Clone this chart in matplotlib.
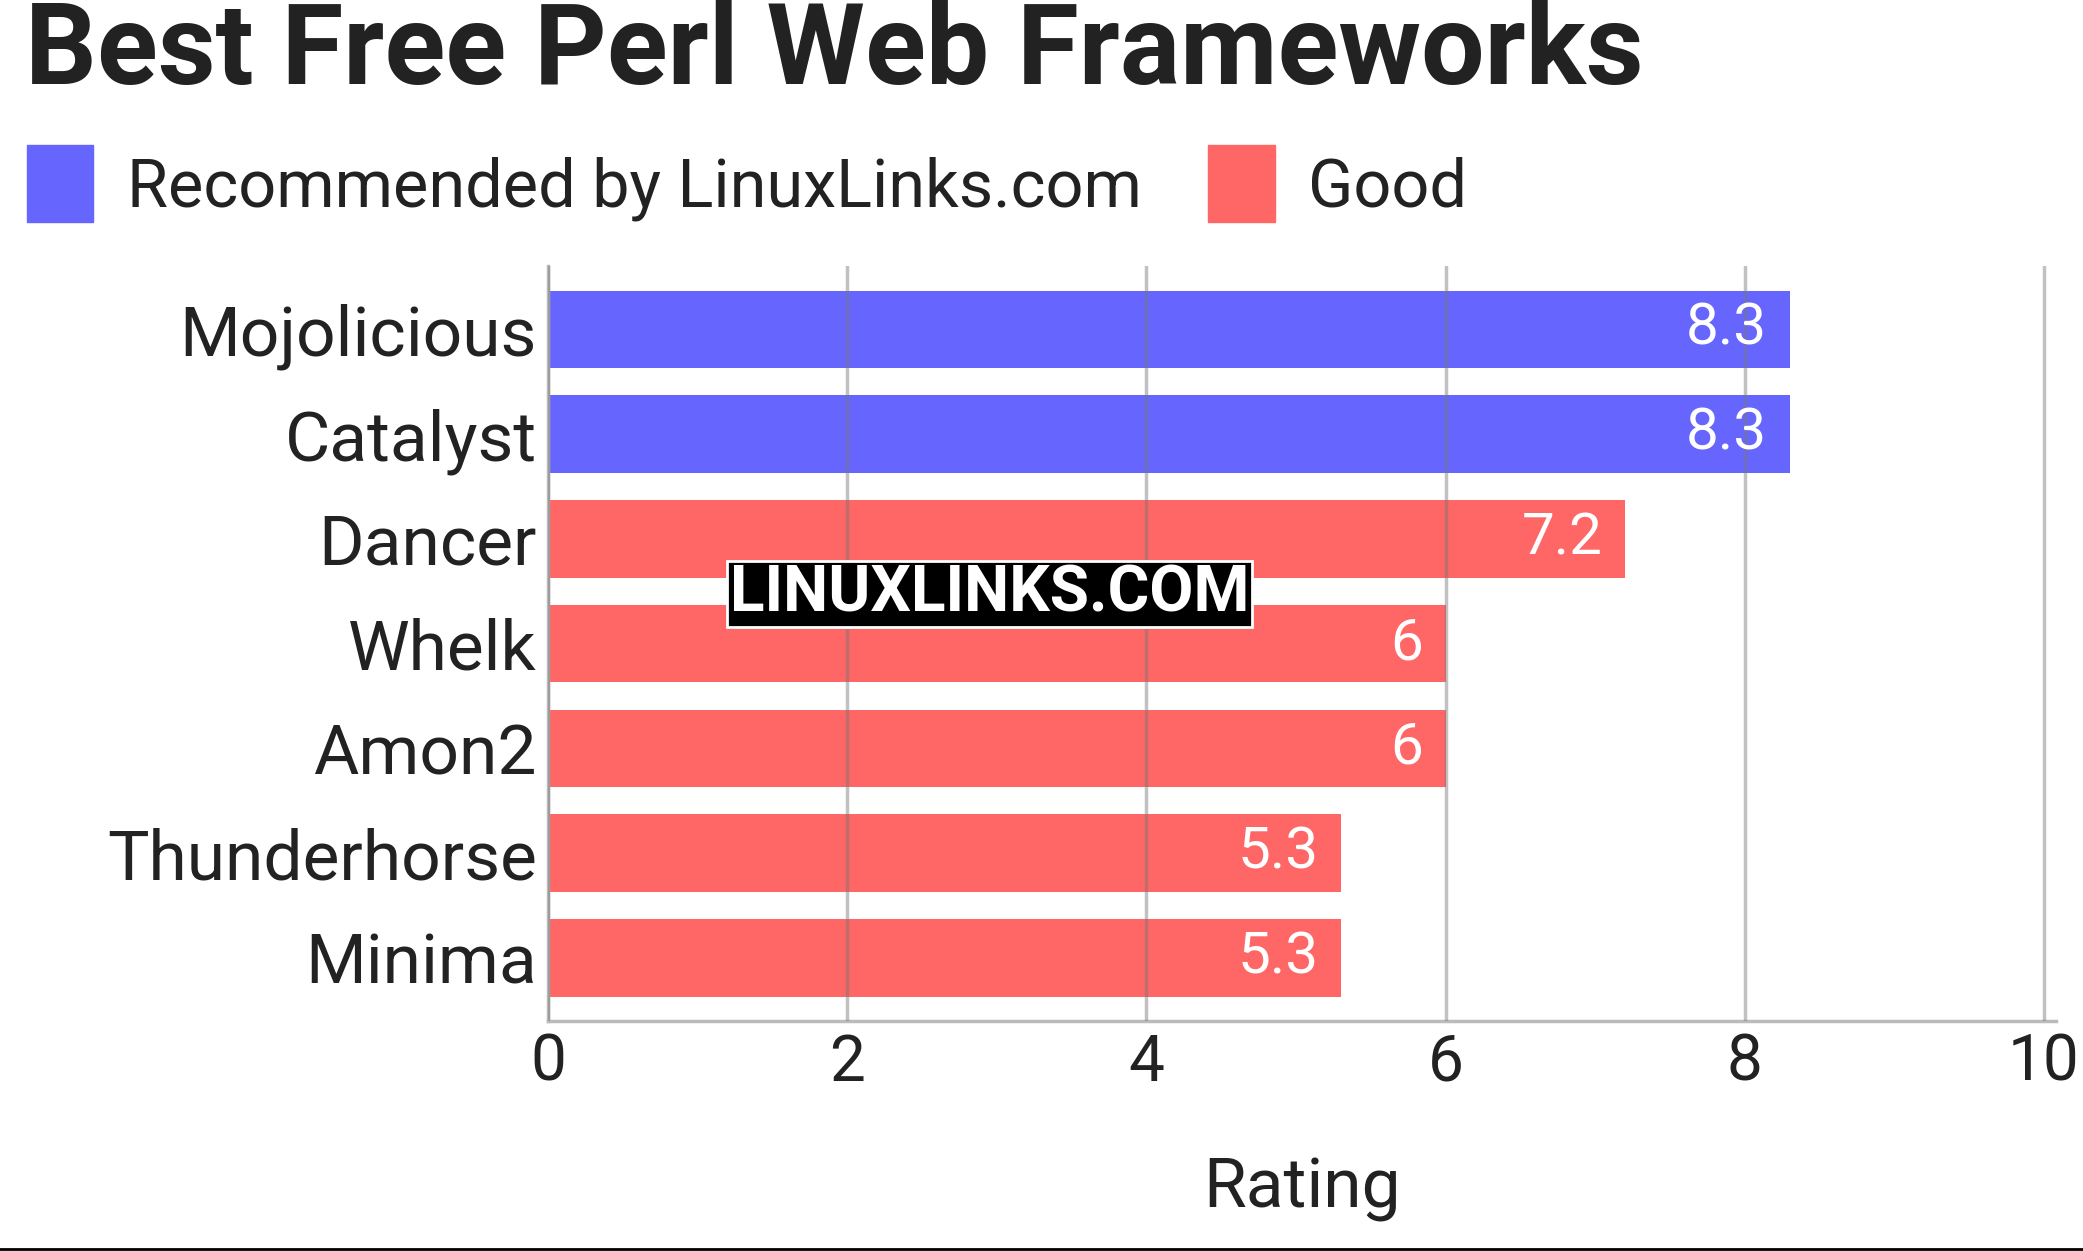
import matplotlib
matplotlib.use("Agg")
import matplotlib.pyplot as plt
from matplotlib.patches import Patch
from matplotlib.lines import Line2D

categories = ["Mojolicious", "Catalyst", "Dancer", "Whelk", "Amon2", "Thunderhorse", "Minima"]
ratings = [8.3, 8.3, 7.2, 6, 6, 5.3, 5.3]
groups = ["Recommended by LinuxLinks.com", "Recommended by LinuxLinks.com", "Good", "Good", "Good", "Good", "Good"]
colors = {"Recommended by LinuxLinks.com": "#6666ff", "Good": "#ff6666"}
xticks = [0, 2, 4, 6, 8, 10]

plt.rcParams['font.family'] = ['Roboto', 'DejaVu Sans']
fig = plt.figure(figsize=(20.83, 12.51), dpi=100)
ax = fig.add_axes([0.263, 0.184, 0.724, 0.603])
y = list(range(len(categories)))
ax.barh(y, ratings, height=0.74, color=[colors[g] for g in groups], zorder=2)
for yi, v in zip(y, ratings):
    ax.text(v - 0.15, yi, f"{v:g}", ha="right", va="center", color="white", fontsize=42, zorder=4)
ax.set_ylim(len(categories) - 0.4, -0.6)
ax.set_xlim(0, 10.08)
ax.set_xticks(xticks)
ax.set_xticklabels([str(t) for t in xticks], fontsize=46, color="#222222")
ax.set_yticks(y)
ax.set_yticklabels(categories, fontsize=50, color="#222222")
ax.tick_params(length=0, pad=8)
ax.set_axisbelow(False)
ax.grid(axis="x", color="#777777", alpha=0.45, linewidth=2.5)
for s in ["top", "right"]:
    ax.spines[s].set_visible(False)
for s in ["left", "bottom"]:
    ax.spines[s].set_color("#bbbbbb")
    ax.spines[s].set_linewidth(2.5)
ax.set_xlabel("Rating", fontsize=50, color="#222222", labelpad=45)

fig.text(0.012, 0.958, "Best Free Perl Web Frameworks", fontsize=81, fontweight="bold", color="#222222", va="center", ha="left")
handles = [Patch(color=colors[k]) for k in ["Recommended by LinuxLinks.com", "Good"]]
fig.legend(handles, ["Recommended by LinuxLinks.com", "Good"], loc="center left", bbox_to_anchor=(0.0, 0.853),
           ncol=2, frameon=False, fontsize=48, handlelength=1.0, handleheight=1.4, handletextpad=0.5,
           columnspacing=1.0, borderaxespad=0.2, borderpad=0.2, labelcolor="#222222")
fig.text(0.475, 0.525, "LINUXLINKS.COM", fontsize=46, fontweight="bold", color="white", ha="center", va="center",
         bbox=dict(facecolor="black", edgecolor="white", linewidth=2, pad=2), zorder=5)
fig.add_artist(Line2D([0, 1], [0.0015, 0.0015], color="black", linewidth=2, transform=fig.transFigure))
fig.savefig("out.png", dpi=100)
